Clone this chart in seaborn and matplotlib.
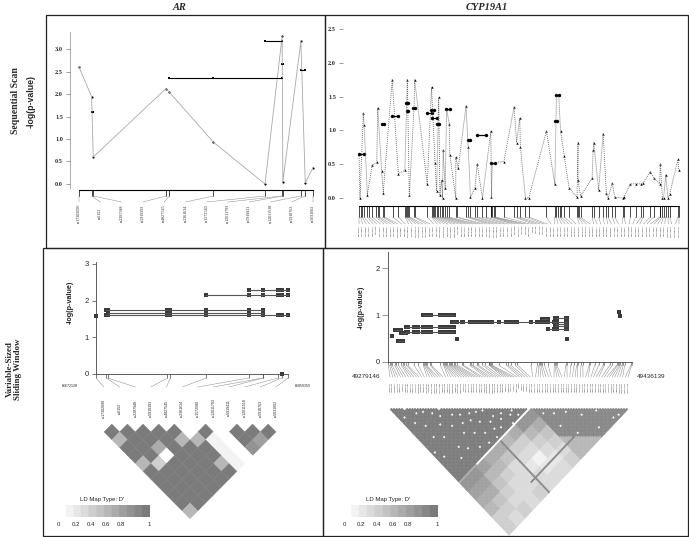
import numpy as np
import matplotlib
matplotlib.use("Agg")
import matplotlib.pyplot as plt
import seaborn as sns
from matplotlib.collections import PolyCollection
from matplotlib.colors import LinearSegmentedColormap, Normalize
from matplotlib.patches import Rectangle

# ---------------- AR data ----------------
AR_SNPS = ["rs17302090", "rs6152", "rs2287948", "rs5919393", "rs4827545", "rs2361634",
           "rs1572580", "rs12011793", "rs5919411", "rs12011518", "rs5918763", "rs5031002"]
AR_POS_KB = [0.0, 10.1, 11.4, 69.6, 72.3, 107.5, 148.8, 162.5, 163.1, 177.5, 181.0, 187.2]
AR_START, AR_END = "66672128", "66859350"
AR_SEQ = [2.60, 1.94, 0.60, 2.12, 2.04, 0.93, 0.00, 3.28, 0.05, 3.17, 0.03, 0.36]
AR_SEQ_WINDOWS = [([1, 2], 1.60), ([4, 5, 7], 2.36), ([6, 7], 3.17), ([7, 8], 2.66), ([9, 10], 2.53)]
AR_VSW_WINDOWS = [([0], 1.59), ([1, 2], 1.60), ([1, 2, 3, 4, 5, 6, 7, 8, 9, 10, 11], 1.62),
                  ([2, 3, 4, 5, 6, 7, 8], 1.66), ([1, 2, 3, 4, 5, 6, 7, 8], 1.75),
                  ([5, 6, 7, 8, 9, 10, 11], 2.15), ([6, 7, 8, 9, 10, 11], 2.30), ([10], 0.0)]
AR_LD_HIGH = 0.97
AR_LD_LOW = {(0, 2): 0.55, (0, 5): 0.55, (1, 6): 0.40, (2, 5): 0.65, (2, 6): 0.05,
             (4, 6): 0.50, (5, 6): 0.05, (5, 7): 0.50, (5, 10): 0.55,
             (6, 8): 0.10, (6, 9): 0.10, (6, 10): 0.10, (6, 11): 0.10,
             (7, 8): 0.0, (7, 9): 0.0, (7, 10): 0.0, (7, 11): 0.0,
             (8, 11): 0.80, (9, 11): 0.70, (0, 11): 0.55}

# ---------------- CYP19A1 data ----------------
CYP_SNPS = [
    "rs2445762", "rs1062033", "rs1008805", "rs2470152", "rs2899470", "rs730154", "rs1902580", "rs4774585", "rs2446405", "rs6493497",
    "rs7176005", "rs11636639", "rs3759811", "rs2008691", "rs12148604", "rs4441215", "rs17601876", "rs12592697", "rs10459592", "rs17703883",
    "rs8025191", "rs1870049", "rs1870050", "rs11632903", "rs12591359", "rs2289105", "rs17523880", "rs28566535", "rs767199", "rs2470144",
    "rs2470176", "rs2445765", "rs2445768", "rs2304462", "rs2304463", "rs6493494", "rs1902586", "rs11070844", "rs12908960", "rs12906609",
    "rs3751591", "rs3751592", "rs4775936", "rs2255192", "rs936306", "rs1065779", "rs727479", "rs749292", "rs2414096", "rs4646",
    "rs10046", "rs700519", "rs700518", "rs1870051", "rs2414095", "rs2414097", "rs2470151", "rs2470153", "rs2470154", "rs2470158",
    "rs2445759", "rs2445760", "rs2445761", "rs2445763", "rs2445764", "rs2446404", "rs2446406", "rs2446407", "rs3784307", "rs3784308",
    "rs3784309", "rs4646511", "rs4775935", "rs4775937", "rs6493486", "rs6493487", "rs6493488", "rs6493489", "rs6493490", "rs6493491",
    "rs6493492", "rs6493495", "rs7172156", "rs7175922", "rs7181886", "rs8023263", "rs8029542", "rs10519297", "rs11070843", "rs12439137",
    "rs17647719"]
CYP_POS_KB = [0.0, 0.8, 1.6, 2.5, 4.1, 5.1, 6.5, 8.3, 9.2, 10.0, 11.6, 12.4, 16.5, 19.3, 22.5, 23.0, 23.7, 24.2, 24.7, 27.0,
              27.6, 33.5, 35.6, 36.1, 36.8, 37.3, 38.1, 38.9, 39.7, 40.5, 41.3, 42.2, 43.0, 44.3, 47.5, 48.2, 52.5, 53.6, 54.4, 56.9,
              58.0, 60.6, 62.3, 64.7, 65.0, 65.5, 66.2, 66.7, 71.1, 76.1, 77.3, 78.9, 81.7, 83.3, 92.0, 96.1, 96.9, 97.7, 98.5, 99.3,
              100.7, 103.1, 107.0, 107.5, 108.0, 108.7, 114.4, 115.2, 117.6, 119.8, 121.4, 122.2, 124.3, 125.5, 129.6, 130.1, 133.2, 135.8, 138.6, 139.4,
              143.0, 144.6, 147.5, 147.9, 148.9, 149.5, 150.5, 151.6, 152.5, 156.5, 157.0]
CYP_START, CYP_END = "49279146", "49436139"
CYP_SEQ_KB = [0.0, 0.5, 2.1, 2.5, 4.1, 6.5, 8.7, 9.2, 11.1, 11.9, 16.3, 19.3, 22.5, 23.4, 23.7, 24.7, 27.0, 27.3,
              33.5, 35.6, 37.3, 38.1, 39.1, 39.7, 40.5, 41.0, 41.3, 42.3, 43.0, 44.3, 44.6, 47.5, 47.5, 48.7,
              52.5, 53.6, 54.7, 56.9, 58.0, 60.6, 64.7, 65.0, 65.4, 71.1, 76.1, 77.3, 78.9, 79.2, 81.7, 83.3,
              92.0, 96.1, 96.9, 98.0, 98.9, 100.7, 103.1, 107.0, 107.5, 107.5, 108.7, 114.4, 114.9, 115.2, 117.6,
              119.8, 121.4, 122.2, 124.3, 125.5, 129.6, 130.1, 133.2, 135.8, 138.6, 139.4, 143.0, 144.6, 147.5,
              147.9, 148.9, 149.5, 150.5, 151.6, 152.5, 156.5, 156.9]
CYP_SEQ_VAL = [0.65, 0.00, 1.26, 1.08, 0.05, 0.49, 0.53, 1.33, 0.40, 0.08, 1.75, 0.36, 0.41, 1.40, 1.75, 0.04, 1.33, 1.75,
               0.20, 1.64, 0.52, 0.10, 1.49, 0.05, 0.26, 0.00, 0.71, 0.15, 1.31, 1.10, 0.63, 0.00, 0.60, 0.44,
               1.36, 0.75, 0.01, 0.15, 0.50, 0.00, 0.99, 0.01, 0.52, 0.54, 1.35, 0.82, 1.18, 0.75, 0.00, 0.00,
               0.99, 0.20, 1.53, 1.53, 0.99, 0.62, 0.15, 0.01, 0.82, 0.26, 0.03, 0.29, 0.71, 0.82, 0.12,
               0.95, 0.07, 0.00, 0.22, 0.01, 0.00, 0.02, 0.21, 0.21, 0.21, 0.22, 0.39, 0.30, 0.21,
               0.51, 0.00, 0.00, 0.34, 0.00, 0.06, 0.57, 0.41]
CYP_SEQ_WINDOWS = [(0.0, 2.5, 0.65), (11.1, 12.3, 1.09), (16.3, 19.3, 1.21), (23.0, 24.2, 1.40), (23.4, 24.2, 1.29),
                   (26.6, 27.3, 1.33), (33.5, 35.6, 1.26), (35.1, 36.8, 1.30), (35.6, 38.1, 1.18), (38.1, 39.4, 1.10),
                   (42.6, 44.6, 1.31), (53.3, 54.7, 0.86), (58.0, 62.3, 0.93), (65.0, 66.7, 0.52), (96.4, 97.2, 1.14),
                   (96.9, 98.2, 1.53)]
# variable-sized windows: (first SNP index, last SNP index, -log p)
CYP_VSW_WINDOWS = [(3, 3, 0.56), (4, 7, 0.68), (6, 8, 0.45), (7, 10, 0.61), (10, 31, 0.75), (10, 31, 0.64),
                   (14, 31, 1.00), (30, 67, 0.86), (33, 33, 0.49), (59, 61, 0.91), (63, 67, 0.94), (63, 67, 0.81),
                   (63, 67, 0.76), (61, 67, 0.71), (67, 67, 0.50), (84, 84, 1.07), (85, 85, 0.98)]
# LD (D') structure of the CYP19A1 block, estimated region by region
CYP_BREAK = 53           # SNP with almost no LD to the SNPs on its left
CYP_BREAK_FROM = 13
CYP_LEFT_D = 0.95
CYP_RIGHT_NEAR_D, CYP_RIGHT_FAR_D = 0.85, 0.5
CYP_I_EDGES = [0, 6, 12, 18, 24, 30, 36, 42, 48, 54]
CYP_J_EDGES = [54, 60, 66, 72, 78, 84, 91]
CYP_CROSS_D = [[0.75, 0.70, 0.60, 0.50, 0.40, 0.35],
               [0.80, 0.70, 0.60, 0.45, 0.35, 0.30],
               [0.70, 0.55, 0.45, 0.35, 0.30, 0.35],
               [0.60, 0.50, 0.40, 0.30, 0.30, 0.30],
               [0.60, 0.45, 0.30, 0.25, 0.30, 0.35],
               [0.55, 0.40, 0.30, 0.20, 0.25, 0.30],
               [0.60, 0.40, 0.25, 0.15, 0.20, 0.30],
               [0.75, 0.50, 0.35, 0.25, 0.20, 0.30],
               [0.80, 0.60, 0.45, 0.35, 0.30, 0.35]]
CYP_DARK_COL, CYP_DARK_ROW = 80, 30
CYP_SPECKLE = [(2, 9), (4, 15), (5, 6), (7, 20), (8, 12), (10, 31), (11, 14), (12, 40), (13, 25), (14, 18),
               (15, 44), (16, 22), (17, 30), (18, 19), (19, 37), (20, 48), (21, 26), (22, 33), (23, 41), (24, 29),
               (25, 50), (26, 35), (27, 45), (28, 32), (29, 39), (30, 51), (31, 34), (32, 47), (33, 43), (34, 36),
               (35, 49), (36, 42), (38, 46), (40, 44), (41, 52), (43, 48), (45, 47), (46, 51), (3, 38), (6, 27),
               (9, 45), (1, 33), (56, 60), (58, 71), (60, 64), (62, 80), (65, 68), (70, 75), (72, 86), (77, 79),
               (81, 88), (84, 89)]

# ---------------- style ----------------
sns.set_theme(style="white")
SERIF = ["Liberation Serif", "DejaVu Serif"]
SANS = ["Liberation Sans", "DejaVu Sans"]
plt.rcParams["font.family"] = SANS
ld_cmap = LinearSegmentedColormap.from_list("ld", ["#ffffff", "#7b7b7b"], N=12)
ld_norm = Normalize(0, 1)

W, H = 689, 537
fig = plt.figure(figsize=(W / 100, H / 100), dpi=100)


def px_axes(x0, y0, x1, y1):
    ax = fig.add_axes([x0 / W, 1 - y1 / H, (x1 - x0) / W, (y1 - y0) / H])
    ax.patch.set_alpha(0)
    return ax


def snp_strip(ax, pos, names, y_line, y_tick, y_conn, y_lab, lab_lo, lab_hi, fs, family, va, line=True):
    lx = np.linspace(lab_lo, lab_hi, len(pos))
    if line:
        ax.plot([pos[0], pos[-1]], [y_line, y_line], color="black", lw=0.8)
        for p in pos:
            ax.plot([p, p], [y_line, y_tick], color="black", lw=0.5)
    for p, q, name in zip(pos, lx, names):
        ax.plot([p, q], [y_tick, y_conn], color="#8a8a8a", lw=0.35)
        ax.text(q, y_lab, name, rotation=90, ha="center", va=va, fontsize=fs, family=family)
    return lx


def ld_triangle(ax, lx, top, hy, value_of):
    n = len(lx)
    hw = (lx[1] - lx[0]) / 2
    verts, vals = [], []
    for d in range(1, n):
        for i in range(n - d):
            j = i + d
            cx, cy = (lx[i] + lx[j]) / 2, top + hy * d
            verts.append([(cx, cy - hy), (cx + hw, cy), (cx, cy + hy), (cx - hw, cy)])
            vals.append(value_of(i, j))
    pc = PolyCollection(verts, array=np.array(vals), cmap=ld_cmap, norm=ld_norm,
                        edgecolors="face", linewidths=0.25)
    ax.add_collection(pc)


def ld_legend(x0, y0, x1, y1):
    lg = px_axes(x0, y0, x1, y1)
    lg.imshow(np.linspace(0, 1, 256)[None, :], cmap=ld_cmap, norm=ld_norm, aspect="auto", extent=(0, 1, 0, 1))
    lg.axis("off")
    ov.text((x0 + x1) / 2 - 2, y0 - 5, "LD Map Type: D'", fontsize=4.3, ha="center", va="center")
    for lab, f in zip(["0", "0.2", "0.4", "0.6", "0.8", "1"], [0.01, 0.19, 0.36, 0.52, 0.68, 0.99]):
        ov.text(x0 + f * (x1 - x0), y1 + 8, lab, fontsize=4.3, ha="center", va="center")


ov = px_axes(0, 0, W, H)
ov.set_xlim(0, W)
ov.set_ylim(H, 0)
ov.axis("off")
ov.set_zorder(10)

# ---------------- top-left: AR sequential scan ----------------
ax = px_axes(70, 32, 320, 188)
ax.set_xlim(-7.2, 192.8)
ax.set_ylim(-0.089, 3.378)
sns.lineplot(x=AR_POS_KB, y=AR_SEQ, sort=False, estimator=None, ax=ax, color="#a8a8a8", lw=0.6)
sns.scatterplot(x=AR_POS_KB, y=AR_SEQ, ax=ax, color="black", s=2.5, linewidth=0)
for members, val in AR_SEQ_WINDOWS:
    xs = [AR_POS_KB[k] for k in members]
    ax.plot([min(xs), max(xs)], [val, val], color="black", lw=0.8)
    sns.scatterplot(x=xs, y=[val] * len(xs), ax=ax, color="black", marker="s", s=4, linewidth=0)
sns.despine(ax=ax, bottom=True)
ax.spines["left"].set_linewidth(0.5)
ax.spines["left"].set_color("#8a8a8a")
ax.set_xticks([])
ax.set_yticks(np.arange(0, 3.01, 0.5))
ax.set_yticklabels([f"{v:.1f}" for v in np.arange(0, 3.01, 0.5)], family=SERIF, fontsize=4.5, fontweight="bold")
ax.tick_params(axis="y", left=True, length=3, width=0.5, pad=2, color="#777777")

st = px_axes(70, 186, 320, 232)
st.set_xlim(-7.2, 192.8)
st.set_ylim(232, 186)
st.axis("off")
snp_strip(st, AR_POS_KB, AR_SNPS, 190, 196, 202, 213, AR_POS_KB[0], AR_POS_KB[-1], 3.0, SERIF, "center")

# ---------------- top-right: CYP19A1 sequential scan ----------------
ax = px_axes(343, 25, 683, 202)
ax.set_xlim(-7.85, 159.0)
ax.set_ylim(-0.059, 2.559)
sns.lineplot(x=CYP_SEQ_KB, y=CYP_SEQ_VAL, sort=False, estimator=None, ax=ax, color="#6a6a6a",
             lw=0.6, linestyle=(0, (1.2, 1.2)))
sns.scatterplot(x=CYP_SEQ_KB, y=CYP_SEQ_VAL, ax=ax, color="black", marker="^", s=3, linewidth=0)
for a, b, val in CYP_SEQ_WINDOWS:
    ax.plot([a, b], [val, val], color="black", lw=0.9)
    sns.scatterplot(x=[a, b], y=[val, val], ax=ax, color="black", marker="o", s=6, linewidth=0)
sns.despine(ax=ax, left=True, bottom=True)
ax.set_xticks([])
ax.set_yticks(np.arange(0, 2.51, 0.5))
ax.set_yticklabels([f"{v:.1f}" for v in np.arange(0, 2.51, 0.5)], family=SERIF, fontsize=4.5, fontweight="bold")
ax.tick_params(axis="y", left=True, length=3, width=0.5, pad=2, color="#777777")

st = px_axes(343, 202, 683, 246)
st.set_xlim(-7.85, 159.0)
st.set_ylim(246, 202)
st.axis("off")
snp_strip(st, CYP_POS_KB, CYP_SNPS, 206, 217, 224, 225, CYP_POS_KB[0], CYP_POS_KB[-1], 1.6, SANS, "top")

# ---------------- bottom-left: AR variable-sized sliding window ----------------
ax = px_axes(96, 262, 288, 374)
ax.set_xlim(0, 187.2)
ax.set_ylim(0, 3.05)
for members, val in AR_VSW_WINDOWS:
    xs = [AR_POS_KB[k] for k in members]
    ax.plot([min(xs), max(xs)], [val, val], color="#555555", lw=0.8, clip_on=False)
    sns.scatterplot(x=xs, y=[val] * len(xs), ax=ax, color="#3a3a3a", marker="s", s=6, linewidth=0, clip_on=False)
sns.despine(ax=ax)
for side in ["left", "bottom"]:
    ax.spines[side].set_linewidth(0.6)
    ax.spines[side].set_color("#444444")
ax.set_yticks([0, 1, 2, 3])
ax.set_yticklabels(["0", "1", "2", "3"], fontsize=5.5)
ax.set_xticks(AR_POS_KB)
ax.set_xticklabels([])
ax.tick_params(left=True, bottom=True, length=3, width=0.5, pad=2, color="#444444")

un = px_axes(96, 374, 288, 530)
un.set_xlim(0, 187.2)
un.set_ylim(530, 374)
un.axis("off")
lx = snp_strip(un, AR_POS_KB, AR_SNPS, 374, 378, 387, 408, 7.8, 175.5, 2.6, SANS, "center", line=False)
ld_triangle(un, lx, 424, 7.9, lambda i, j: AR_LD_LOW.get((i, j), AR_LD_HIGH))
ov.text(70, 386, AR_START, fontsize=2.6, ha="center", va="center")
ov.text(303, 386, AR_END, fontsize=2.6, ha="center", va="center")

# ---------------- bottom-right: CYP19A1 variable-sized sliding window ----------------
ax = px_axes(388.3, 252, 631.7, 362)
ax.set_xlim(0, 157)
ax.set_ylim(0, 2.35)
for a, b, val in CYP_VSW_WINDOWS:
    xs = CYP_POS_KB[a:b + 1]
    ax.plot([xs[0], xs[-1]], [val, val], color="#555555", lw=0.8, clip_on=False)
    sns.scatterplot(x=xs, y=[val] * len(xs), ax=ax, color="#3a3a3a", marker="s", s=6, linewidth=0, clip_on=False)
sns.despine(ax=ax)
for side in ["left", "bottom"]:
    ax.spines[side].set_linewidth(0.6)
    ax.spines[side].set_color("#444444")
ax.set_yticks([0, 1, 2])
ax.set_yticklabels(["0", "1", "2"], fontsize=5.5)
ax.set_xticks(CYP_POS_KB)
ax.set_xticklabels([])
ax.tick_params(left=True, bottom=True, length=2.5, width=0.4, pad=2, color="#444444")
ax.tick_params(axis="y", length=4)


def cyp_dprime(i, j):
    if (i, j) in CYP_SPECKLE:
        return 0.1
    if j == CYP_BREAK and i < CYP_BREAK:
        return 0.05 if i >= CYP_BREAK_FROM else 0.6
    if (j == CYP_DARK_COL and i >= 27) or (i == CYP_DARK_ROW and j > CYP_BREAK):
        return 0.9
    if j < CYP_BREAK:
        return CYP_LEFT_D
    if i > CYP_BREAK:
        return CYP_RIGHT_NEAR_D if j - i <= 20 else CYP_RIGHT_FAR_D
    bi = np.searchsorted(CYP_I_EDGES, i, side="right") - 1
    bj = np.searchsorted(CYP_J_EDGES, j, side="right") - 1
    return CYP_CROSS_D[min(bi, 8)][max(min(bj, 5), 0)]


un = px_axes(388.3, 362, 631.7, 537)
un.set_xlim(0, 157)
un.set_ylim(537, 362)
un.axis("off")
lx = snp_strip(un, CYP_POS_KB, CYP_SNPS, 362, 365, 377, 382, 1.1, 154.6, 1.5, SANS, "top", line=False)
ld_triangle(un, lx, 408, 1.4, cyp_dprime)
ov.text(366, 376, CYP_START, fontsize=4.6, ha="center", va="center")
ov.text(651, 376, CYP_END, fontsize=4.6, ha="center", va="center")

ld_legend(58, 505, 150, 517)
ld_legend(343, 505, 438, 517)

# ---------------- frame & labels ----------------
for x0, y0, w, h in [(46, 15, 279, 233), (325, 15, 363, 233), (43, 248, 280, 288), (323, 248, 365, 288)]:
    ov.add_patch(Rectangle((x0, y0), w, h, fill=False, lw=0.9, edgecolor="#222222"))
ov.text(179, 7, "AR", fontsize=7.5, fontweight="bold", fontstyle="italic", family=SERIF, ha="center", va="center")
ov.text(487, 7, "CYP19A1", fontsize=7.5, fontweight="bold", fontstyle="italic", family=SERIF, ha="center", va="center")
ov.text(15, 101, "Sequential Scan", rotation=90, fontsize=7, fontweight="bold", family=SERIF, ha="center", va="center")
ov.text(14, 369, "Variable-Sized\nSliding Window", rotation=90, fontsize=6.5, fontweight="bold", family=SERIF,
        ha="center", va="center", linespacing=1.0)
ov.text(31, 101, "-log(p-value)", rotation=90, fontsize=6.3, fontweight="bold", ha="center", va="center")
ov.text(70, 302, "-log(p-value)", rotation=90, fontsize=5.2, fontweight="bold", ha="center", va="center")
ov.text(361, 307, "-log(p-value)", rotation=90, fontsize=5.2, fontweight="bold", ha="center", va="center")

fig.savefig("out.png", dpi=100)
